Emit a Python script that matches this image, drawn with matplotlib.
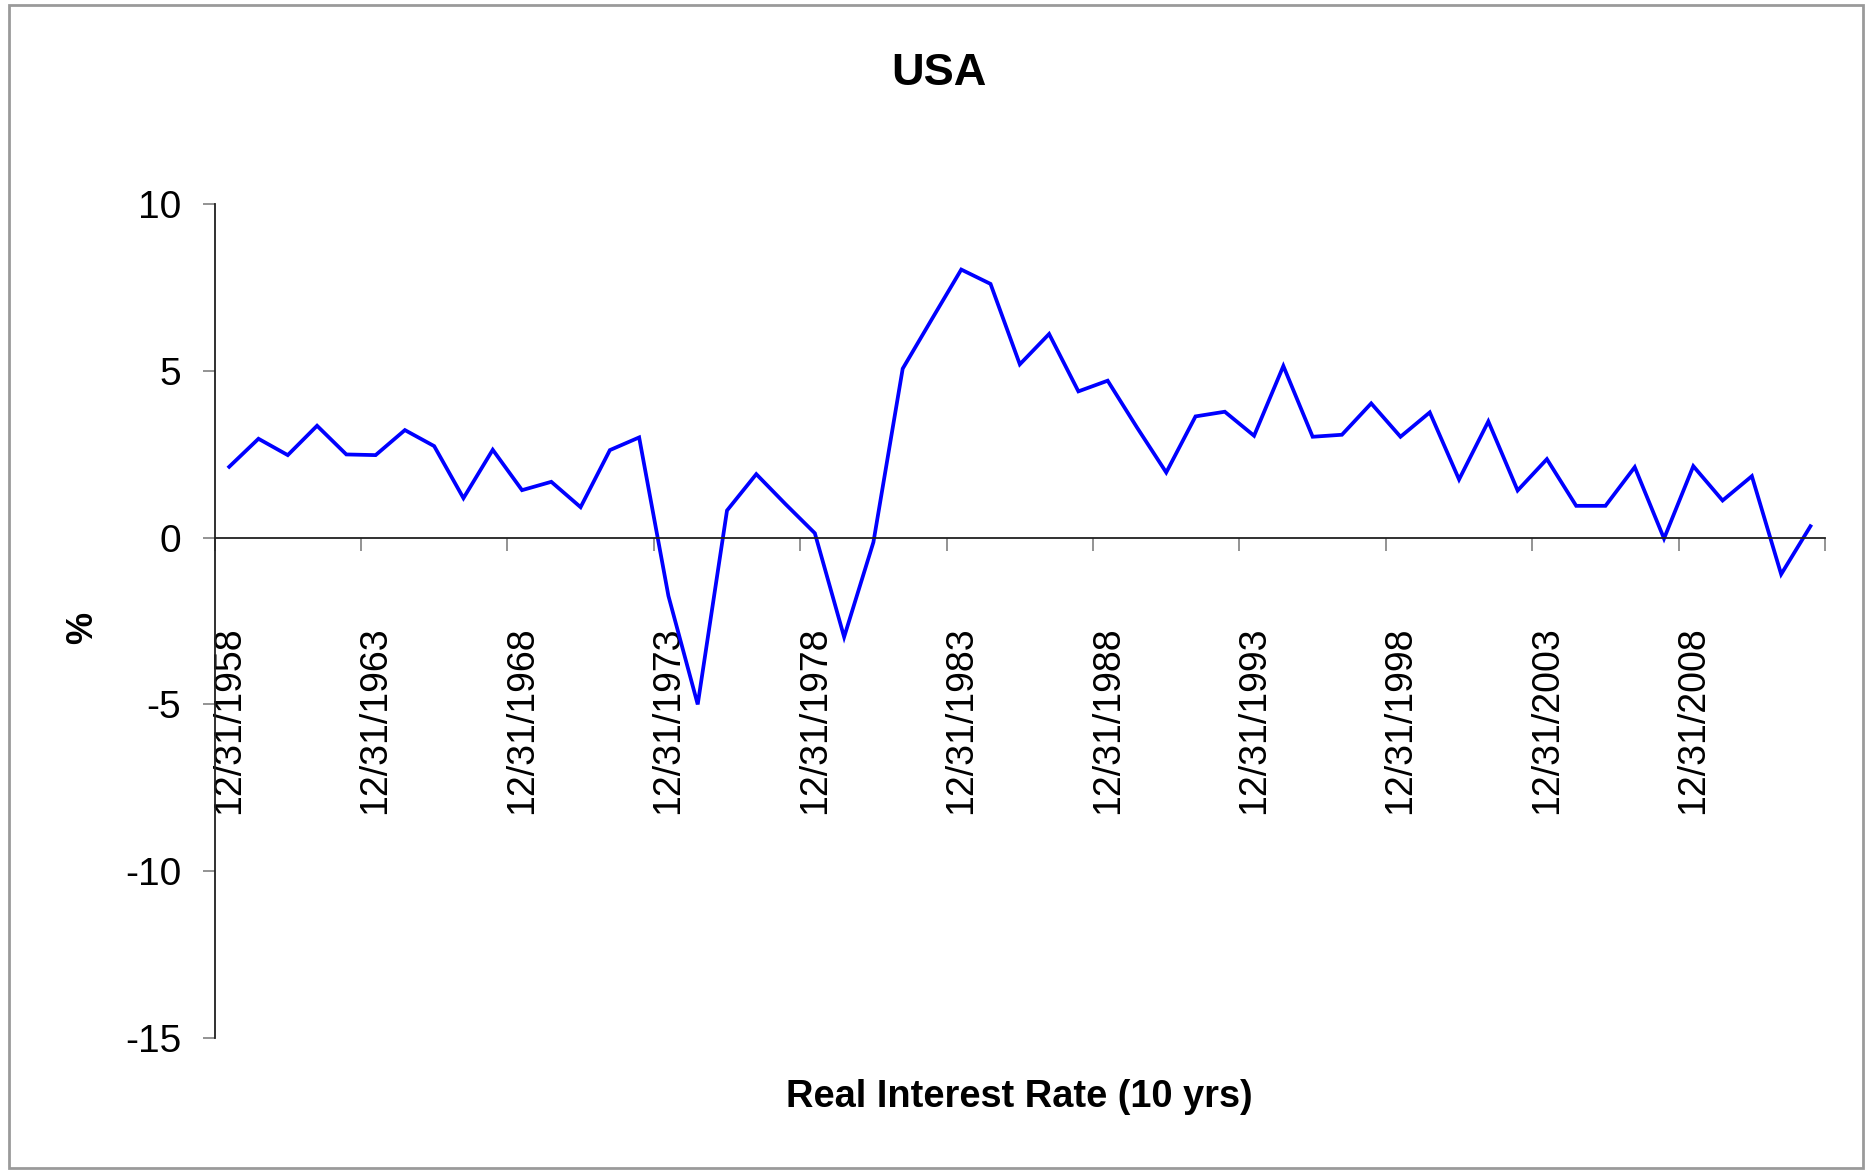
import matplotlib
matplotlib.use('Agg')
import matplotlib.pyplot as plt
import numpy as np
from matplotlib.patches import Rectangle

plt.rcParams['font.family'] = ['Liberation Sans', 'DejaVu Sans']
plt.rcParams['axes.unicode_minus'] = False

# annual real interest rate, 10 yr, USA
years = list(range(1958, 2013))
rates = [2.12, 2.96, 2.47, 3.35, 2.49, 2.47, 3.22, 2.74, 1.18, 2.63,
         1.42, 1.67, 0.91, 2.62, 3.00, -1.75, -5.0, 0.81, 1.90, 1.0,
         0.13, -2.98, -0.14, 5.06, 6.55, 8.03, 7.6, 5.19, 6.1, 4.38,
         4.7, 3.3, 1.95, 3.63, 3.77, 3.05, 5.14, 3.02, 3.08, 4.02,
         3.02, 3.75, 1.74, 3.48, 1.41, 2.35, 0.95, 0.95, 2.11, -0.03,
         2.14, 1.11, 1.84, -1.10, 0.34]
date_labels = ['12/31/%d' % y for y in years]
y_ticks = [-15, -10, -5, 0, 5, 10]

fig = plt.figure(figsize=(18.69, 11.7), dpi=100)
ax = fig.add_axes([0.1148, 0.1127, 0.9765 - 0.1148, 0.8258 - 0.1127])

x = np.arange(len(years))
ax.plot(x, rates, color='#0000FF', linewidth=2.7, solid_joinstyle='miter')

ax.set_xlim(-0.5, len(years) - 0.5)
ax.set_ylim(-15, 10)

# category axis crossing at zero
for side in ['top', 'right']:
    ax.spines[side].set_visible(False)
ax.spines['bottom'].set_position(('data', 0))
ax.spines['bottom'].set_color('#202020')
ax.spines['left'].set_color('#202020')
ax.spines['bottom'].set_linewidth(1.3)
ax.spines['left'].set_linewidth(1.3)

# tick marks on category boundaries, labels on every fifth category
ax.set_xticks(np.arange(-0.5, len(years), 5))
ax.set_xticklabels([])
ax.tick_params(axis='x', which='major', direction='out', length=9, width=1.2, color='#808080')
label_pos = x[::5]
ax.set_xticks(label_pos, minor=True)
ax.set_xticklabels([date_labels[i] for i in label_pos], minor=True, rotation=90, fontsize=27)
ax.tick_params(axis='x', which='minor', length=0, pad=64)

ax.set_yticks(y_ticks)
ax.set_yticklabels([str(v) for v in y_ticks], fontsize=28)
ax.tick_params(axis='y', direction='out', length=9, width=1.2, color='#808080', pad=15)

fig.text(0.5025, 0.937, 'USA', ha='center', va='center', fontsize=32.5, fontweight='bold')
fig.text(0.5452, 0.0624, 'Real Interest Rate (10 yrs)', ha='center', va='center',
         fontsize=27.4, fontweight='bold')
fig.text(0.0444, 0.463, '%', ha='center', va='center', rotation=90, fontsize=26, fontweight='bold')

# outer frame of the chart area
fig.patches.append(Rectangle((0.005, 0.002), 0.992, 0.994, transform=fig.transFigure,
                             fill=False, edgecolor='#9a9a9a', linewidth=2))

fig.savefig('out.png', dpi=100)
